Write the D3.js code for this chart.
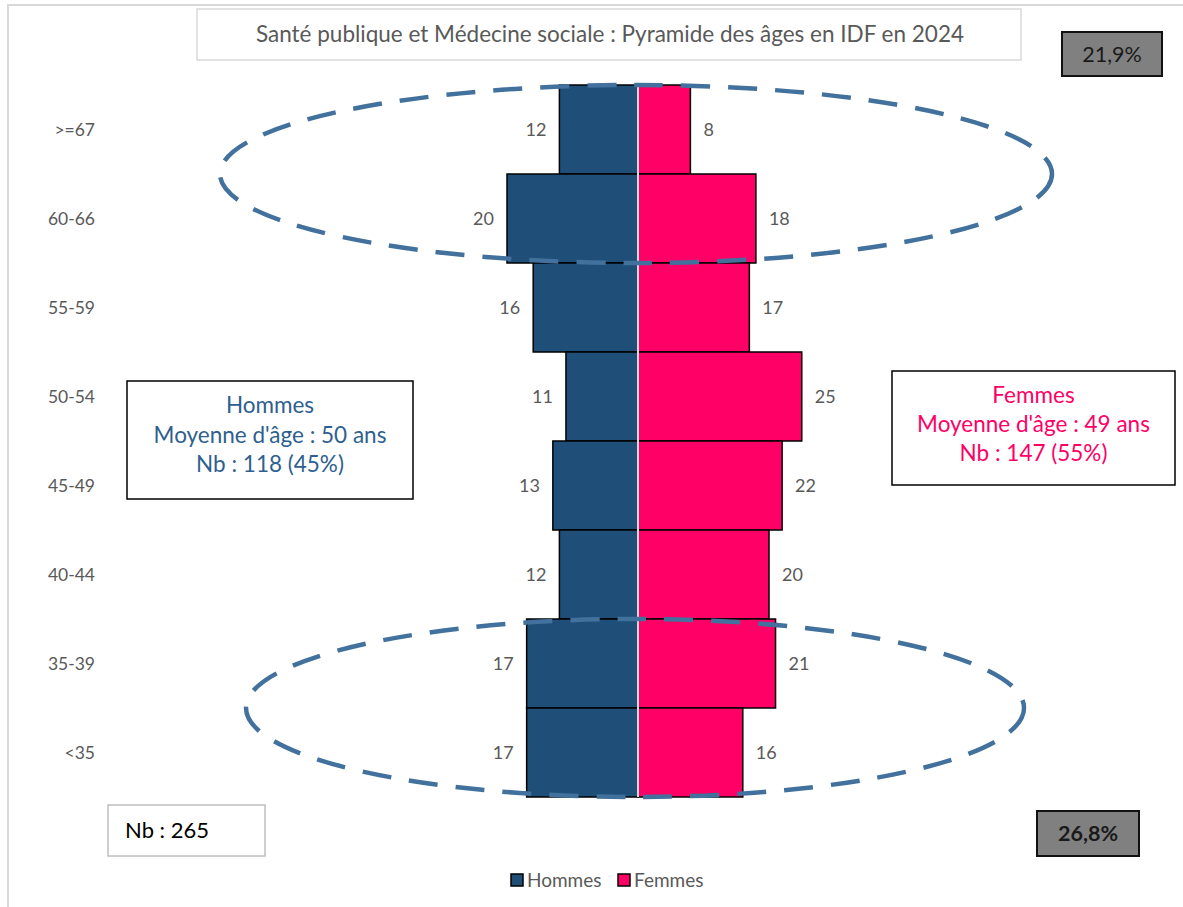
<!DOCTYPE html>
<meta charset="utf-8">
<style>

html, body {
  margin: 0;
  padding: 0;
  background: #fff;
}

svg {
  font-family: Lato, "Open Sans", sans-serif;
}

.bars rect {
  stroke: #000;
  stroke-width: 1.5px;
}

.value {
  fill: #595959;
  font-size: 18px;
}

.cat {
  fill: #595959;
  font-size: 17.5px;
}

.legend text {
  fill: #595959;
  font-size: 19px;
}

.ring {
  fill: none;
  stroke: #41719c;
  stroke-width: 4.5px;
  stroke-dasharray: 29 18;
}

</style>
<svg class="chart"></svg>
<script src="https://d3js.org/d3.v7.min.js"></script>
<script>

var width = 1183;
var height = 907;

// data
var ageGroups = ['>=67', '60-66', '55-59', '50-54', '45-49', '40-44', '35-39', '<35'];
var hommes = [12, 20, 16, 11, 13, 12, 17, 17];
var femmes = [8, 18, 17, 25, 22, 20, 21, 16];
var titleText = 'Santé publique et Médecine sociale : Pyramide des âges en IDF en 2024';
var hommesInfo = ['Hommes', "Moyenne d'âge : 50 ans", 'Nb : 118 (45%)'];
var femmesInfo = ['Femmes', "Moyenne d'âge : 49 ans", 'Nb : 147 (55%)'];
var topShare = '21,9%';
var bottomShare = '26,8%';
var totalText = 'Nb : 265';

var colH = '#1f4e79';
var colF = '#ff0066';

var mid = 638;

var svg = d3.select('svg.chart')
  .attr('width', width)
  .attr('height', height);

// outer frame
svg.append('rect')
  .attr('x', 8).attr('y', 5)
  .attr('width', 1200).attr('height', 950)
  .attr('fill', 'none')
  .attr('stroke', '#d9d9d9')
  .attr('stroke-width', 2);

var y = d3.scaleBand()
  .domain(ageGroups)
  .range([85, 797])
  .padding(0);

var xLeft = d3.scaleLinear().domain([0, 25]).range([mid, mid - 163.75]);
var xRight = d3.scaleLinear().domain([0, 25]).range([mid, mid + 163.75]);

var rows = ageGroups.map(function (g, i) {
  return {group: g, h: hommes[i], f: femmes[i]};
});

var bars = svg.append('g').attr('class', 'bars');

bars.selectAll('rect.h')
  .data(rows)
  .enter().append('rect')
  .attr('class', 'h')
  .attr('x', function (d) { return xLeft(d.h); })
  .attr('y', function (d) { return y(d.group); })
  .attr('width', function (d) { return mid - xLeft(d.h); })
  .attr('height', y.bandwidth())
  .attr('fill', colH);

bars.selectAll('rect.f')
  .data(rows)
  .enter().append('rect')
  .attr('class', 'f')
  .attr('x', mid)
  .attr('y', function (d) { return y(d.group); })
  .attr('width', function (d) { return xRight(d.f) - mid; })
  .attr('height', y.bandwidth())
  .attr('fill', colF);

// center divider
svg.append('line')
  .attr('x1', mid).attr('x2', mid)
  .attr('y1', y.range()[0]).attr('y2', y.range()[1])
  .attr('stroke', '#d9d9d9')
  .attr('stroke-width', 2);

// value labels
svg.selectAll('text.vh')
  .data(rows)
  .enter().append('text')
  .attr('class', 'value vh')
  .attr('x', function (d) { return xLeft(d.h) - 13; })
  .attr('y', function (d) { return y(d.group) + y.bandwidth() / 2; })
  .attr('dy', '0.35em')
  .attr('text-anchor', 'end')
  .text(function (d) { return d.h; });

svg.selectAll('text.vf')
  .data(rows)
  .enter().append('text')
  .attr('class', 'value vf')
  .attr('x', function (d) { return xRight(d.f) + 13; })
  .attr('y', function (d) { return y(d.group) + y.bandwidth() / 2; })
  .attr('dy', '0.35em')
  .attr('text-anchor', 'start')
  .text(function (d) { return d.f; });

// category axis labels
svg.selectAll('text.cat')
  .data(ageGroups)
  .enter().append('text')
  .attr('class', 'cat')
  .attr('x', 95)
  .attr('y', function (d) { return y(d) + y.bandwidth() / 2; })
  .attr('dy', '0.35em')
  .attr('text-anchor', 'end')
  .text(function (d) { return d; });

// dashed ellipses
svg.append('ellipse')
  .attr('class', 'ring')
  .attr('cx', 636).attr('cy', y('60-66'))
  .attr('rx', 416).attr('ry', 89);

svg.append('ellipse')
  .attr('class', 'ring')
  .attr('cx', 635).attr('cy', y('<35'))
  .attr('rx', 389).attr('ry', 89);

// title box
svg.append('rect')
  .attr('x', 197).attr('y', 9)
  .attr('width', 824).attr('height', 51)
  .attr('fill', '#fff')
  .attr('stroke', '#d9d9d9')
  .attr('stroke-width', 1.5);

svg.append('text')
  .attr('x', 610).attr('y', 34)
  .attr('dy', '0.35em')
  .attr('text-anchor', 'middle')
  .attr('fill', '#595959')
  .style('font-size', '22.5px')
  .text(titleText);

// share boxes
function shareBox(x0, y0, w, h, label, bold) {
  svg.append('rect')
    .attr('x', x0).attr('y', y0)
    .attr('width', w).attr('height', h)
    .attr('fill', '#808080')
    .attr('stroke', '#111')
    .attr('stroke-width', 2);
  svg.append('text')
    .attr('x', x0 + w / 2).attr('y', y0 + h / 2)
    .attr('dy', '0.35em')
    .attr('text-anchor', 'middle')
    .attr('fill', '#1a1a1a')
    .style('font-size', '21.5px')
    .style('font-weight', bold ? 'bold' : 'normal')
    .text(label);
}
shareBox(1062, 32, 100, 44, topShare, false);
shareBox(1037, 811, 102, 45, bottomShare, true);

// total box
svg.append('rect')
  .attr('x', 108).attr('y', 805)
  .attr('width', 157).attr('height', 51)
  .attr('fill', '#fff')
  .attr('stroke', '#bfbfbf')
  .attr('stroke-width', 1.5);
svg.append('text')
  .attr('x', 125).attr('y', 830)
  .attr('dy', '0.35em')
  .attr('fill', '#000')
  .style('font-size', '22px')
  .text(totalText);

// info boxes
function infoBox(x0, y0, w, h, lines, color, ys) {
  svg.append('rect')
    .attr('x', x0).attr('y', y0)
    .attr('width', w).attr('height', h)
    .attr('fill', '#fff')
    .attr('stroke', '#000')
    .attr('stroke-width', 1.5);
  svg.selectAll(null)
    .data(lines)
    .enter().append('text')
    .attr('x', x0 + w / 2)
    .attr('y', function (d, i) { return ys[i]; })
    .attr('dy', '0.35em')
    .attr('text-anchor', 'middle')
    .attr('fill', color)
    .style('font-size', '22.5px')
    .text(function (d) { return d; });
}
infoBox(127, 381, 286, 118, hommesInfo, '#2e5f8f', [405, 435, 464]);
infoBox(892, 371, 283, 114, femmesInfo, colF, [395, 424, 453]);

// legend
var legendItems = [{name: 'Hommes', color: colH, x: 511}, {name: 'Femmes', color: colF, x: 618}];
var legend = svg.append('g').attr('class', 'legend');
var li = legend.selectAll('g')
  .data(legendItems)
  .enter().append('g')
  .attr('transform', function (d) { return 'translate(' + d.x + ',880)'; });
li.append('rect')
  .attr('x', 0).attr('y', -6)
  .attr('width', 12).attr('height', 12)
  .attr('fill', function (d) { return d.color; })
  .attr('stroke', '#000')
  .attr('stroke-width', 1.5);
li.append('text')
  .attr('x', 16)
  .attr('dy', '0.35em')
  .text(function (d) { return d.name; });

</script>
